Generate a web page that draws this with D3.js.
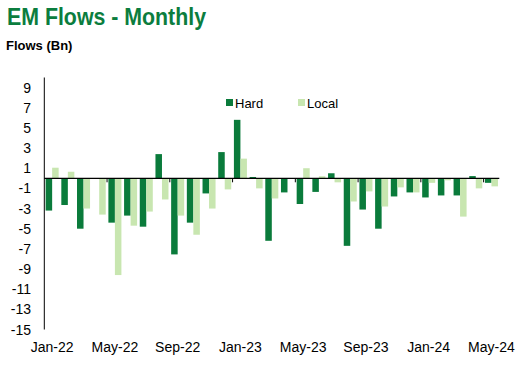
<script src="https://d3js.org/d3.v7.min.js"></script>
<style>
  body { margin: 0; background: #fff; }
  text { font-family: Arial, "Liberation Sans", sans-serif; }
</style>
<svg id="vis"></svg>
<script>
  // Monthly data
  var months = ["Jan-22","Feb-22","Mar-22","Apr-22","May-22","Jun-22","Jul-22","Aug-22","Sep-22","Oct-22","Nov-22","Dec-22",
                "Jan-23","Feb-23","Mar-23","Apr-23","May-23","Jun-23","Jul-23","Aug-23","Sep-23","Oct-23","Nov-23","Dec-23",
                "Jan-24","Feb-24","Mar-24","Apr-24","May-24"];
  var hard  = [-3.2, -2.65, -5.0, 0, -4.4, -3.7, -4.8, 2.4, -7.55, -4.4, -1.5, 2.6,
               5.8, 0.13, -6.2, -1.4, -2.55, -1.35, 0.5, -6.7, -3.1, -5.0, -1.8, -1.4,
               -1.9, -1.7, -1.7, 0.22, -0.45];
  var local = [1.05, 0.65, -3.0, -3.6, -9.6, -4.7, -3.3, -2.1, -3.7, -5.6, -3.0, -1.1,
               1.95, -1.0, -2.0, 0, 1.0, 0.2, -0.4, -2.3, -1.3, -2.8, -0.9, -1.4,
               -0.45, -0.2, -3.8, -1.0, -0.8];
  var yTicks = [9, 7, 5, 3, 1, -1, -3, -5, -7, -9, -11, -13, -15];
  var seriesNames = ["Hard", "Local"];
  var colors = ["#0a7b3b", "#c8e6b0"];

  var svg = d3.select("#vis")
      .attr("width", 524)
      .attr("height", 368);

  var x = d3.scaleBand()
      .domain(months)
      .range([44.3, 499.3])
      .paddingInner(0.17)
      .paddingOuter(0.085);

  var xSub = d3.scaleBand()
      .domain(seriesNames)
      .range([0, x.bandwidth()]);

  var y = d3.scaleLinear()
      .domain([-15, 10])
      .range([329.5, 77.5]);

  // Title
  svg.append("text")
      .attr("x", 7).attr("y", 25)
      .attr("font-size", 24).attr("font-weight", "bold")
      .attr("fill", "#0b7d3e")
      .attr("textLength", 199).attr("lengthAdjust", "spacingAndGlyphs")
      .text("EM Flows - Monthly");

  svg.append("text")
      .attr("x", 6).attr("y", 50)
      .attr("font-size", 13).attr("font-weight", "bold")
      .attr("fill", "#000")
      .text("Flows (Bn)");

  // Bars
  var table = months.map(function(m, i) {
    return [{m: m, s: "Hard", v: hard[i]}, {m: m, s: "Local", v: local[i]}];
  });

  svg.append("g").selectAll("g")
      .data(table)
      .enter().append("g")
      .attr("transform", function(d) { return "translate(" + x(d[0].m) + ",0)"; })
      .selectAll("rect")
      .data(function(d) { return d; })
      .enter().append("rect")
      .attr("x", function(d) { return xSub(d.s); })
      .attr("width", xSub.bandwidth())
      .attr("y", function(d) { return y(Math.max(0, d.v)); })
      .attr("height", function(d) { return Math.abs(y(d.v) - y(0)); })
      .attr("fill", function(d) { return d.s == "Hard" ? colors[0] : colors[1]; });

  // Y axis line
  svg.append("line")
      .attr("x1", 44.3).attr("x2", 44.3)
      .attr("y1", y(10)).attr("y2", y(-15))
      .attr("stroke", "#000").attr("stroke-width", 1);

  // Y tick labels
  svg.append("g").selectAll("text")
      .data(yTicks)
      .enter().append("text")
      .attr("x", 31)
      .attr("y", function(d) { return y(d) + 5; })
      .attr("text-anchor", "end")
      .attr("font-size", 14)
      .text(function(d) { return d; });

  // Zero line with ticks every 4 months
  svg.append("line")
      .attr("x1", 44.3).attr("x2", 499.3)
      .attr("y1", y(0)).attr("y2", y(0))
      .attr("stroke", "#000").attr("stroke-width", 1.2);

  var step = x.step();
  var tickIdx = d3.range(4, months.length + 1, 4);
  svg.append("g").selectAll("line")
      .data(tickIdx)
      .enter().append("line")
      .attr("x1", function(i) { return 44.3 + x.paddingOuter() * step + i * step - x.paddingInner() * step / 2; })
      .attr("x2", function(i) { return 44.3 + x.paddingOuter() * step + i * step - x.paddingInner() * step / 2; })
      .attr("y1", y(0)).attr("y2", y(0) + 4)
      .attr("stroke", "#000");

  // X labels
  svg.append("g").selectAll("text")
      .data(months.filter(function(m, i) { return i % 4 == 0; }))
      .enter().append("text")
      .attr("x", function(d) { return x(d) + x.bandwidth() / 2; })
      .attr("y", 352)
      .attr("text-anchor", "middle")
      .attr("font-size", 14)
      .text(function(d) { return d; });

  // Legend
  var legX = [226, 298];
  var legend = svg.append("g").selectAll("g")
      .data(seriesNames)
      .enter().append("g")
      .attr("transform", function(d, i) { return "translate(" + legX[i] + ",99)"; });
  legend.append("rect")
      .attr("width", 7).attr("height", 7)
      .attr("fill", function(d, i) { return colors[i]; });
  legend.append("text")
      .attr("x", 9).attr("y", 9)
      .attr("font-size", 13)
      .text(function(d) { return d; });
</script>
